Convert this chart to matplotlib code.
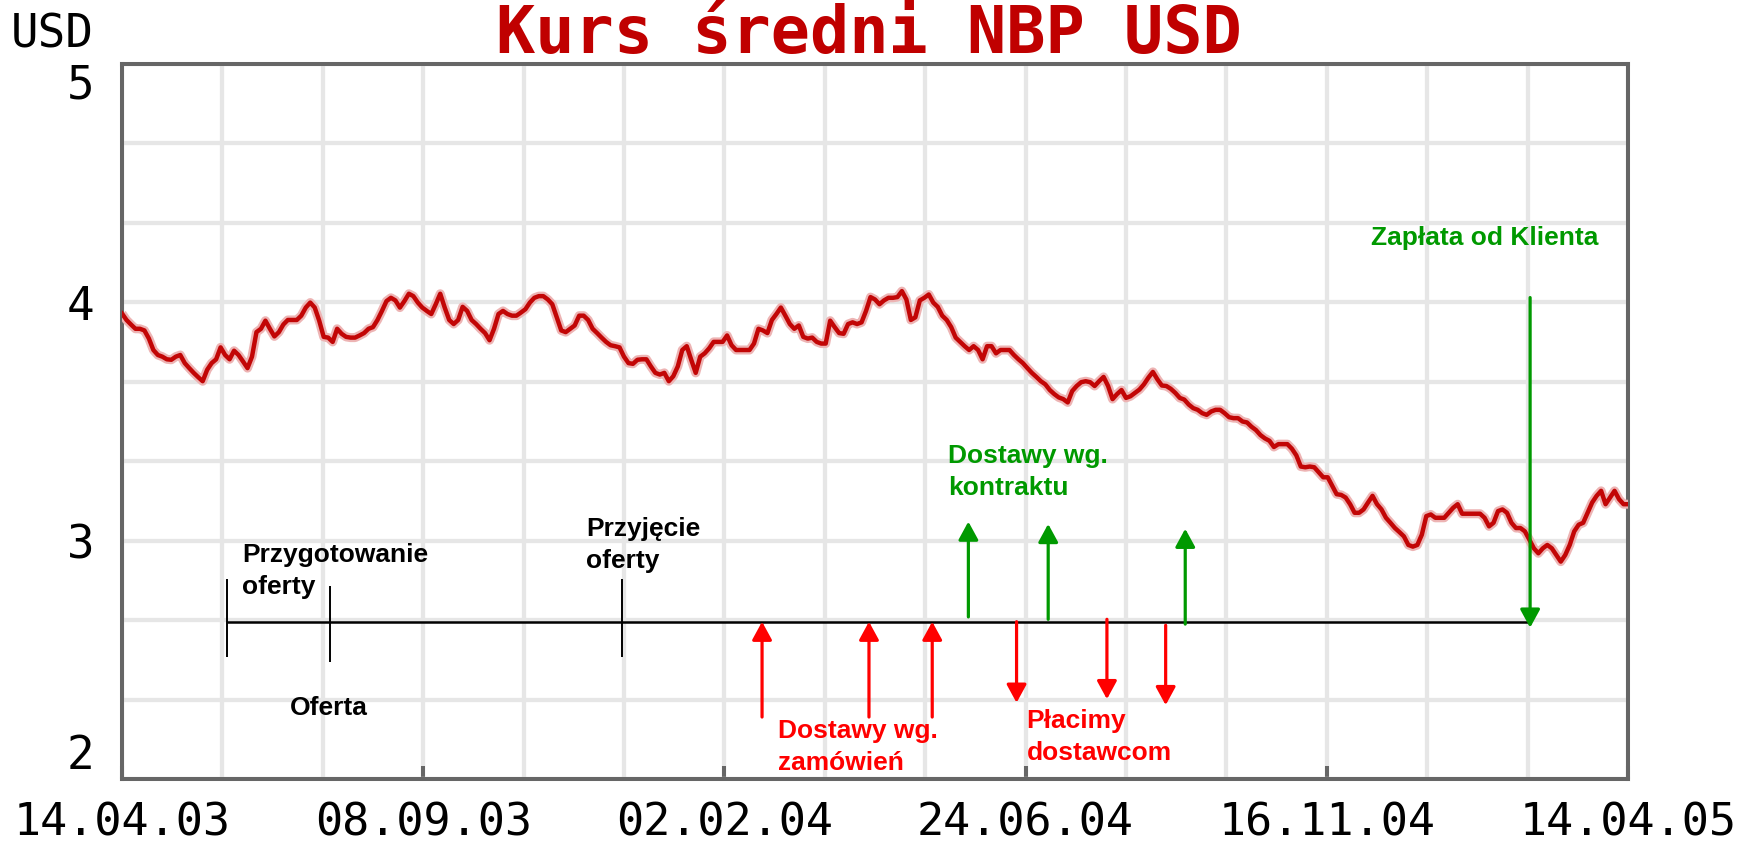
import numpy as np
import matplotlib
matplotlib.use('Agg')
import matplotlib.pyplot as plt

# kurs sredni NBP USD, sesja po sesji (odczyt z wykresu)
kurs = [
    3.953, 3.926, 3.907, 3.889, 3.889, 3.882, 3.848, 3.800, 3.779, 3.772, 3.761, 3.759,
    3.772, 3.779, 3.745, 3.724, 3.704, 3.686, 3.669, 3.717, 3.745, 3.761, 3.811, 3.779,
    3.761, 3.797, 3.779, 3.752, 3.724, 3.772, 3.875, 3.889, 3.923, 3.889, 3.857, 3.875,
    3.907, 3.926, 3.926, 3.926, 3.944, 3.978, 3.999, 3.978, 3.923, 3.855, 3.852, 3.834,
    3.889, 3.868, 3.855, 3.852, 3.852, 3.861, 3.871, 3.889, 3.896, 3.926, 3.964, 4.005,
    4.019, 4.008, 3.978, 4.005, 4.036, 4.026, 3.999, 3.978, 3.964, 3.951, 3.992, 4.036,
    3.978, 3.926, 3.909, 3.926, 3.981, 3.964, 3.926, 3.909, 3.889, 3.871, 3.841, 3.889,
    3.951, 3.964, 3.951, 3.944, 3.944, 3.957, 3.971, 3.999, 4.019, 4.026, 4.026, 4.012,
    3.992, 3.937, 3.882, 3.875, 3.889, 3.903, 3.944, 3.944, 3.926, 3.889, 3.871, 3.852,
    3.834, 3.820, 3.816, 3.811,
    3.772, 3.745, 3.742, 3.759, 3.761, 3.761, 3.731, 3.704, 3.697, 3.704, 3.669, 3.690,
    3.731, 3.800, 3.816, 3.759, 3.704, 3.772, 3.786, 3.807, 3.834, 3.834, 3.834, 3.861,
    3.820, 3.800, 3.800, 3.800, 3.800, 3.827, 3.889, 3.882, 3.871, 3.926, 3.951, 3.978,
    3.944, 3.909, 3.889, 3.903, 3.855, 3.848, 3.852, 3.834, 3.827, 3.827, 3.923, 3.896,
    3.871, 3.868, 3.909, 3.916, 3.909, 3.916, 3.964, 4.022, 4.012, 3.992, 4.008, 4.019,
    4.019, 4.022, 4.047, 4.012, 3.926, 3.937, 4.008, 4.019, 4.033, 3.999, 3.981, 3.944,
    3.926, 3.896, 3.852, 3.834, 3.816, 3.800, 3.816, 3.800, 3.761, 3.816, 3.816, 3.786,
    3.800, 3.800, 3.800, 3.779, 3.761, 3.745, 3.724, 3.704, 3.687, 3.669, 3.656, 3.632,
    3.615, 3.601, 3.594, 3.580, 3.628, 3.649, 3.665, 3.669, 3.665, 3.649, 3.669, 3.687,
    3.649, 3.594, 3.615, 3.632,
    3.599, 3.606, 3.620, 3.634, 3.656, 3.684, 3.708, 3.677, 3.651, 3.649, 3.637, 3.620,
    3.599, 3.592, 3.571, 3.556, 3.549, 3.535, 3.528, 3.542, 3.549, 3.549, 3.535, 3.518,
    3.514, 3.514, 3.500, 3.496, 3.478, 3.464, 3.443, 3.429, 3.419, 3.393, 3.405, 3.405,
    3.405, 3.386, 3.358, 3.311, 3.308, 3.311, 3.308, 3.287, 3.266, 3.266, 3.230, 3.195,
    3.192, 3.181, 3.153, 3.117, 3.117, 3.131, 3.160, 3.188, 3.153, 3.131, 3.096, 3.075,
    3.053, 3.036, 3.018, 2.982, 2.975, 2.982, 3.025, 3.103, 3.110, 3.096, 3.096, 3.096,
    3.117, 3.138, 3.153, 3.113, 3.113, 3.113, 3.113, 3.113, 3.096, 3.060, 3.075, 3.124,
    3.131, 3.117, 3.075, 3.053, 3.053, 3.039, 3.004, 2.968, 2.947, 2.968, 2.982, 2.968,
    2.940, 2.912, 2.940, 2.982, 3.039, 3.067, 3.075, 3.117, 3.160, 3.188, 3.209, 3.153,
    3.181, 3.209, 3.174, 3.153, 3.153,
]
n_sesji = 500
daty = ['14.04.03', '08.09.03', '02.02.04', '24.06.04', '16.11.04', '14.04.05']
y_ticks = [2, 3, 4, 5]

# os czasu projektu (numer sesji, kurs)
os_y = 2.66
os_start, os_koniec = 35, 467.5
kreski_x = [35, 69, 166]
kreski_y0 = [2.51, 2.49, 2.51]
kreski_y1 = [2.84, 2.81, 2.84]
zam_x = [212.5, 248, 269]          # dostawy wg. zamowien
zam_od, zam_do = 2.26, 2.66
placimy_x = [297, 327, 346.5]      # placimy dostawcom
placimy_od = [2.66, 2.67, 2.645]
placimy_do = [2.32, 2.335, 2.31]
kontr_x = [281, 307.5, 353]        # dostawy wg. kontraktu
kontr_od = [2.68, 2.67, 2.65]
kontr_do = [3.08, 3.07, 3.05]
klient_x = 467.5                   # zaplata od klienta
klient_od, klient_do = 4.02, 2.635

CZERWONY = '#FF0000'
ZIELONY = '#009900'
RAMKA = '#666666'
SIATKA = '#E6E6E6'

fig = plt.figure(figsize=(17.38, 8.46), dpi=100)
ax = fig.add_axes([122 / 1738, 67 / 846, 1506 / 1738, 715 / 846])

x = np.linspace(0, n_sesji, len(kurs))
ax.plot(x, kurs, color='#EDB4B4', lw=6.5, solid_capstyle='butt', zorder=3)
ax.plot(x, kurs, color='#C20606', lw=3.2, zorder=4)

ax.set_xlim(0, n_sesji)
ax.set_ylim(2, 5)
ax.set_xticks(np.arange(0, n_sesji + 1, 100), daty)
ax.set_xticks(np.linspace(0, n_sesji, 16), minor=True)
ax.set_yticks(y_ticks, [str(v) for v in y_ticks])
ax.set_yticks(np.linspace(2, 5, 10), minor=True)
ax.grid(True, which='both', color=SIATKA, lw=3.1)
ax.set_axisbelow(True)

mono = 'DejaVu Sans Mono'
ax.tick_params(axis='x', which='major', direction='in', length=9.5, width=2.9,
               color=RAMKA, pad=16, labelsize=32.5)
ax.tick_params(axis='y', which='major', length=0, pad=20, labelsize=33)
ax.tick_params(which='minor', length=0)
for lab in ax.get_xticklabels() + ax.get_yticklabels():
    lab.set_fontfamily(mono)
yl = ax.get_yticklabels()
yl[0].set_va('bottom')
yl[-1].set_va('top')
for s in ax.spines.values():
    s.set_color(RAMKA)
    s.set_linewidth(2.9)

# tytul i jednostka
fig.text(0.5, (846 - 53) / 846, 'Kurs średni NBP USD', ha='center', va='baseline',
         fontsize=47, family=mono, fontweight='bold', color='#C00000')
fig.text(94 / 1738, (846 - 47) / 846, 'USD', ha='right', va='baseline',
         fontsize=33, family=mono)

# os czasu
ax.hlines(os_y, os_start, os_koniec, color='black', lw=1.8, zorder=5)
ax.vlines(kreski_x, kreski_y0, kreski_y1, color='black', lw=1.4, zorder=5)


def strzalka(x0, y0, y1, kolor):
    ax.annotate('', xy=(x0, y1), xytext=(x0, y0),
                arrowprops=dict(arrowstyle='-|>,head_length=0.55,head_width=0.3',
                                color=kolor, lw=2.3, mutation_scale=20,
                                shrinkA=0, shrinkB=0),
                zorder=6)


for xi in zam_x:
    strzalka(xi, zam_od, zam_do, CZERWONY)
for xi, a, b in zip(placimy_x, placimy_od, placimy_do):
    strzalka(xi, a, b, CZERWONY)
for xi, a, b in zip(kontr_x, kontr_od, kontr_do):
    strzalka(xi, a, b, ZIELONY)
strzalka(klient_x, klient_od, klient_do, ZIELONY)

opis = dict(fontsize=19, fontweight='bold', family='Liberation Sans', va='top',
            linespacing=1.4, zorder=7)
ax.text(39.8, 2.99, 'Przygotowanie\noferty', ha='left', color='black', **opis)
ax.text(68.5, 2.348, 'Oferta', ha='center', color='black', **opis)
ax.text(154, 3.099, 'Przyjęcie\noferty', ha='left', color='black', **opis)
ax.text(274.4, 3.405, 'Dostawy wg.\nkontraktu', ha='left', color=ZIELONY, **opis)
ax.text(217.7, 2.251, 'Dostawy wg.\nzamówień', ha='left', color=CZERWONY, **opis)
ax.text(300.3, 2.293, 'Płacimy\ndostawcom', ha='left', color=CZERWONY, **opis)
ax.text(414.7, 4.32, 'Zapłata od Klienta', ha='left', color=ZIELONY, **opis)

fig.savefig('out.png', dpi=100)
